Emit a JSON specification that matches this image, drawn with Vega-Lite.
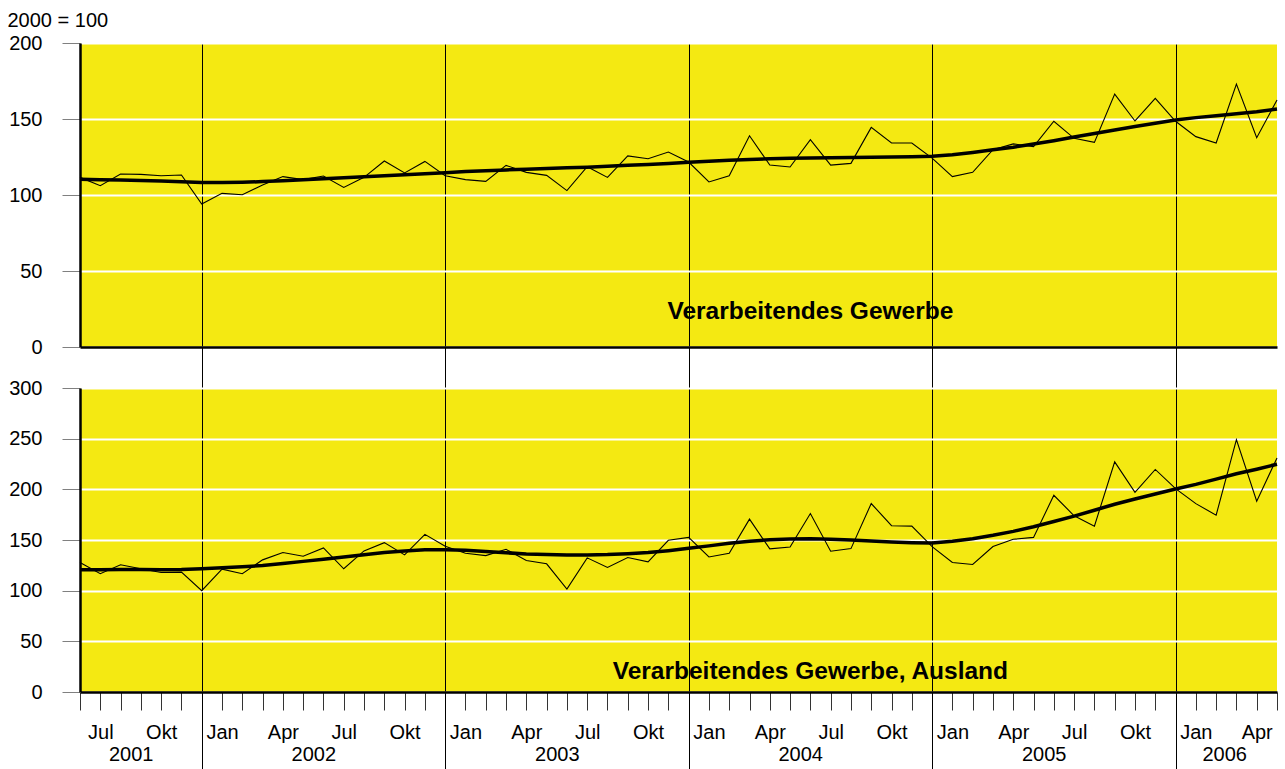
{
  "$schema": "https://vega.github.io/schema/vega-lite/v6.json",
  "padding": {"left": 7, "top": 10, "right": 5, "bottom": 0},
  "datasets": {
    "main": [
      {"t":0,"ind":111.6,"ind_tr":110.3,"aus":127.8,"aus_tr":120.6},
      {"t":1,"ind":106.1,"ind_tr":110.1,"aus":116.7,"aus_tr":120.7},
      {"t":2,"ind":113.8,"ind_tr":109.9,"aus":125.5,"aus_tr":120.8},
      {"t":3,"ind":113.6,"ind_tr":109.6,"aus":121.6,"aus_tr":120.8},
      {"t":4,"ind":112.7,"ind_tr":109.2,"aus":118.0,"aus_tr":120.7},
      {"t":5,"ind":113.2,"ind_tr":108.7,"aus":118.3,"aus_tr":120.9},
      {"t":6,"ind":94.1,"ind_tr":108.2,"aus":100.0,"aus_tr":121.6},
      {"t":7,"ind":101.1,"ind_tr":108.2,"aus":121.2,"aus_tr":122.5},
      {"t":8,"ind":100.2,"ind_tr":108.4,"aus":116.7,"aus_tr":123.6},
      {"t":9,"ind":106.6,"ind_tr":108.8,"aus":130.4,"aus_tr":124.8},
      {"t":10,"ind":112.1,"ind_tr":109.3,"aus":137.6,"aus_tr":126.8},
      {"t":11,"ind":110.1,"ind_tr":110.0,"aus":134.0,"aus_tr":128.9},
      {"t":12,"ind":112.5,"ind_tr":110.7,"aus":142.2,"aus_tr":131.0},
      {"t":13,"ind":105.0,"ind_tr":111.4,"aus":121.6,"aus_tr":133.2},
      {"t":14,"ind":111.6,"ind_tr":112.0,"aus":139.2,"aus_tr":135.4},
      {"t":15,"ind":122.4,"ind_tr":112.7,"aus":147.4,"aus_tr":137.6},
      {"t":16,"ind":114.5,"ind_tr":113.4,"aus":135.3,"aus_tr":139.2},
      {"t":17,"ind":122.1,"ind_tr":114.0,"aus":155.6,"aus_tr":140.3},
      {"t":18,"ind":112.7,"ind_tr":114.7,"aus":143.8,"aus_tr":140.4},
      {"t":19,"ind":110.1,"ind_tr":115.4,"aus":136.9,"aus_tr":139.8},
      {"t":20,"ind":109.0,"ind_tr":116.0,"aus":134.6,"aus_tr":138.6},
      {"t":21,"ind":119.5,"ind_tr":116.5,"aus":140.8,"aus_tr":137.4},
      {"t":22,"ind":114.9,"ind_tr":117.0,"aus":129.7,"aus_tr":136.3},
      {"t":23,"ind":112.9,"ind_tr":117.5,"aus":126.5,"aus_tr":135.7},
      {"t":24,"ind":102.9,"ind_tr":117.9,"aus":101.6,"aus_tr":135.3},
      {"t":25,"ind":118.6,"ind_tr":118.3,"aus":132.4,"aus_tr":135.3},
      {"t":26,"ind":111.6,"ind_tr":118.9,"aus":122.9,"aus_tr":135.6},
      {"t":27,"ind":125.7,"ind_tr":119.5,"aus":132.7,"aus_tr":136.4},
      {"t":28,"ind":123.9,"ind_tr":120.1,"aus":128.4,"aus_tr":137.6},
      {"t":29,"ind":128.3,"ind_tr":120.8,"aus":149.7,"aus_tr":139.5},
      {"t":30,"ind":121.7,"ind_tr":121.5,"aus":152.6,"aus_tr":141.8},
      {"t":31,"ind":108.6,"ind_tr":122.2,"aus":133.3,"aus_tr":144.2},
      {"t":32,"ind":112.7,"ind_tr":122.9,"aus":136.9,"aus_tr":146.7},
      {"t":33,"ind":139.0,"ind_tr":123.4,"aus":170.6,"aus_tr":148.8},
      {"t":34,"ind":119.7,"ind_tr":123.8,"aus":141.2,"aus_tr":150.3},
      {"t":35,"ind":118.4,"ind_tr":124.1,"aus":143.1,"aus_tr":151.0},
      {"t":36,"ind":136.4,"ind_tr":124.3,"aus":176.1,"aus_tr":151.3},
      {"t":37,"ind":119.7,"ind_tr":124.5,"aus":138.9,"aus_tr":150.8},
      {"t":38,"ind":120.8,"ind_tr":124.7,"aus":141.5,"aus_tr":150.0},
      {"t":39,"ind":144.5,"ind_tr":124.9,"aus":186.0,"aus_tr":149.0},
      {"t":40,"ind":134.2,"ind_tr":125.0,"aus":164.1,"aus_tr":148.0},
      {"t":41,"ind":134.2,"ind_tr":125.2,"aus":163.7,"aus_tr":147.4},
      {"t":42,"ind":124.3,"ind_tr":125.5,"aus":143.5,"aus_tr":147.1},
      {"t":43,"ind":112.1,"ind_tr":126.5,"aus":127.8,"aus_tr":148.7},
      {"t":44,"ind":114.9,"ind_tr":128.0,"aus":125.8,"aus_tr":151.3},
      {"t":45,"ind":129.8,"ind_tr":129.7,"aus":143.5,"aus_tr":154.6},
      {"t":46,"ind":133.6,"ind_tr":131.4,"aus":150.7,"aus_tr":158.5},
      {"t":47,"ind":131.8,"ind_tr":133.5,"aus":152.6,"aus_tr":163.1},
      {"t":48,"ind":148.5,"ind_tr":135.7,"aus":194.1,"aus_tr":168.3},
      {"t":49,"ind":137.3,"ind_tr":138.1,"aus":173.9,"aus_tr":173.5},
      {"t":50,"ind":134.6,"ind_tr":140.5,"aus":163.7,"aus_tr":179.4},
      {"t":51,"ind":166.4,"ind_tr":142.8,"aus":227.1,"aus_tr":185.3},
      {"t":52,"ind":148.7,"ind_tr":145.0,"aus":197.1,"aus_tr":190.5},
      {"t":53,"ind":163.6,"ind_tr":147.2,"aus":219.6,"aus_tr":195.4},
      {"t":54,"ind":148.5,"ind_tr":149.3,"aus":200.7,"aus_tr":200.3},
      {"t":55,"ind":138.4,"ind_tr":150.9,"aus":185.9,"aus_tr":204.9},
      {"t":56,"ind":134.2,"ind_tr":152.2,"aus":174.5,"aus_tr":210.1},
      {"t":57,"ind":173.0,"ind_tr":153.5,"aus":249.0,"aus_tr":215.4},
      {"t":58,"ind":137.7,"ind_tr":154.8,"aus":188.2,"aus_tr":219.9},
      {"t":59,"ind":162.5,"ind_tr":156.6,"aus":231.0,"aus_tr":224.8}
    ],
    "labels": [
      {"panel":"ind","t":36,"value":23,"label":"Verarbeitendes Gewerbe"},
      {"panel":"aus","t":36,"value":19.7,"label":"Verarbeitendes Gewerbe, Ausland"}
    ]
  },
  "vconcat": [
    {
      "width": 1197,
      "height": 304,
      "encoding": {
        "y": {
          "field": "value", "type": "quantitative",
          "scale": {"domain": [0, 200], "nice": false, "zero": true},
          "axis": {
            "values": [0, 50, 100, 150, 200],
            "tickSize": 18, "tickColor": "#808080", "tickWidth": 1,
            "labelPadding": 20,
            "grid": true, "gridColor": "#ffffff", "gridWidth": 2,
            "domainColor": "#000000", "domainWidth": 2.5,
            "title": "2000 = 100", "titleAngle": 0, "titleAlign": "left", "titleBaseline": "top",
            "titleX": -73, "titleY": -33, "titleFontSize": 20, "titleFontWeight": "normal",
            "titleFont": "Liberation Sans", "titleColor": "#000000"
          }
        }
      },
      "layer": [
        {
          "data": {"name": "main"},
          "transform": [{"fold": ["ind", "ind_tr"], "as": ["series", "value"]}, {"filter": "datum.series === 'ind'"}],
          "mark": {"type": "line", "color": "#000000", "strokeWidth": 1.1},
          "encoding": {
            "x": {
              "field": "t", "type": "quantitative",
              "scale": {"domain": [0, 59], "nice": false, "zero": false},
              "axis": {
                "orient": "bottom", "values": [6, 18, 30, 42, 54], "labels": false,
                "tickSize": 41, "tickColor": "#000000", "tickWidth": 1,
                "grid": true, "gridColor": "#000000", "gridWidth": 1,
                "domainColor": "#000000", "domainWidth": 2.5, "title": null
              }
            }
          }
        },
        {
          "data": {"name": "main"},
          "transform": [{"fold": ["ind", "ind_tr"], "as": ["series", "value"]}, {"filter": "datum.series === 'ind_tr'"}],
          "mark": {"type": "line", "color": "#000000", "strokeWidth": 3.5},
          "encoding": {
            "x": {"field": "t", "type": "quantitative", "scale": {"domain": [0, 59], "nice": false, "zero": false}, "axis": null}
          }
        },
        {
          "data": {"name": "labels"},
          "transform": [{"filter": "datum.panel === 'ind'"}],
          "mark": {"type": "text", "font": "Liberation Sans", "fontWeight": "bold", "fontSize": 24.5, "align": "center", "baseline": "middle", "color": "#000000"},
          "encoding": {
            "x": {"field": "t", "type": "quantitative", "scale": {"domain": [0, 59], "nice": false, "zero": false}, "axis": null},
            "text": {"field": "label"}
          }
        }
      ],
      "resolve": {"axis": {"x": "independent"}}
    },
    {
      "width": 1197,
      "height": 304,
      "encoding": {
        "y": {
          "field": "value", "type": "quantitative",
          "scale": {"domain": [0, 300], "nice": false, "zero": true},
          "axis": {
            "values": [0, 50, 100, 150, 200, 250, 300],
            "tickSize": 18, "tickColor": "#808080", "tickWidth": 1,
            "labelPadding": 20,
            "grid": true, "gridColor": "#ffffff", "gridWidth": 2,
            "domainColor": "#000000", "domainWidth": 2.5,
            "title": null
          }
        }
      },
      "layer": [
        {
          "data": {"name": "main"},
          "transform": [{"fold": ["aus", "aus_tr"], "as": ["series", "value"]}, {"filter": "datum.series === 'aus'"}],
          "mark": {"type": "line", "color": "#000000", "strokeWidth": 1.1},
          "encoding": {
            "x": {
              "field": "t", "type": "quantitative",
              "scale": {"domain": [0, 59], "nice": false, "zero": false},
              "axis": {
                "orient": "bottom",
                "values": [0,1,2,3,4,5,6,7,8,9,10,11,12,13,14,15,16,17,18,19,20,21,22,23,24,25,26,27,28,29,30,31,32,33,34,35,36,37,38,39,40,41,42,43,44,45,46,47,48,49,50,51,52,53,54,55,56,57,58,59],
                "labelExpr": "datum.value % 3 == 1 ? ['Jul','Okt','Jan','Apr'][floor((datum.value - 1) / 3) % 4] : ''",
                "tickSize": 18, "tickColor": "#333333", "tickWidth": 1,
                "labelPadding": 12, "labelOverlap": false, "labelFlush": false, "labelBound": false,
                "grid": false,
                "domainColor": "#000000", "domainWidth": 2.5, "title": null
              }
            }
          }
        },
        {
          "data": {"name": "main"},
          "transform": [{"fold": ["aus", "aus_tr"], "as": ["series", "value"]}, {"filter": "datum.series === 'aus_tr'"}],
          "mark": {"type": "line", "color": "#000000", "strokeWidth": 3.5},
          "encoding": {
            "x": {
              "field": "t", "type": "quantitative",
              "scale": {"domain": [0, 59], "nice": false, "zero": false},
              "axis": {
                "orient": "bottom", "values": [6, 18, 30, 42, 54], "labels": false,
                "tickSize": 77, "tickColor": "#000000", "tickWidth": 1,
                "grid": true, "gridColor": "#000000", "gridWidth": 1,
                "domain": false, "title": null
              }
            }
          }
        },
        {
          "data": {"name": "labels"},
          "transform": [{"filter": "datum.panel === 'aus'"}],
          "mark": {"type": "text", "font": "Liberation Sans", "fontWeight": "bold", "fontSize": 24.5, "align": "center", "baseline": "middle", "color": "#000000"},
          "encoding": {
            "x": {
              "field": "t", "type": "quantitative",
              "scale": {"domain": [0, 59], "nice": false, "zero": false},
              "axis": {
                "orient": "bottom", "values": [2.5, 11.5, 23.5, 35.5, 47.5, 56.4],
                "labelExpr": "'' + (2001 + floor((datum.value + 6) / 12))",
                "ticks": false, "domain": false, "grid": false,
                "labelPadding": 52, "labelOverlap": false, "labelFlush": false, "labelBound": false,
                "title": null
              }
            },
            "text": {"field": "label"}
          }
        }
      ],
      "resolve": {"axis": {"x": "independent"}}
    }
  ],
  "spacing": 41,
  "bounds": "flush",
  "config": {
    "view": {"fill": "#f4e912", "stroke": null},
    "font": "Liberation Sans",
    "axis": {"labelFont": "Liberation Sans", "labelFontSize": 20, "labelColor": "#000000"}
  }
}
